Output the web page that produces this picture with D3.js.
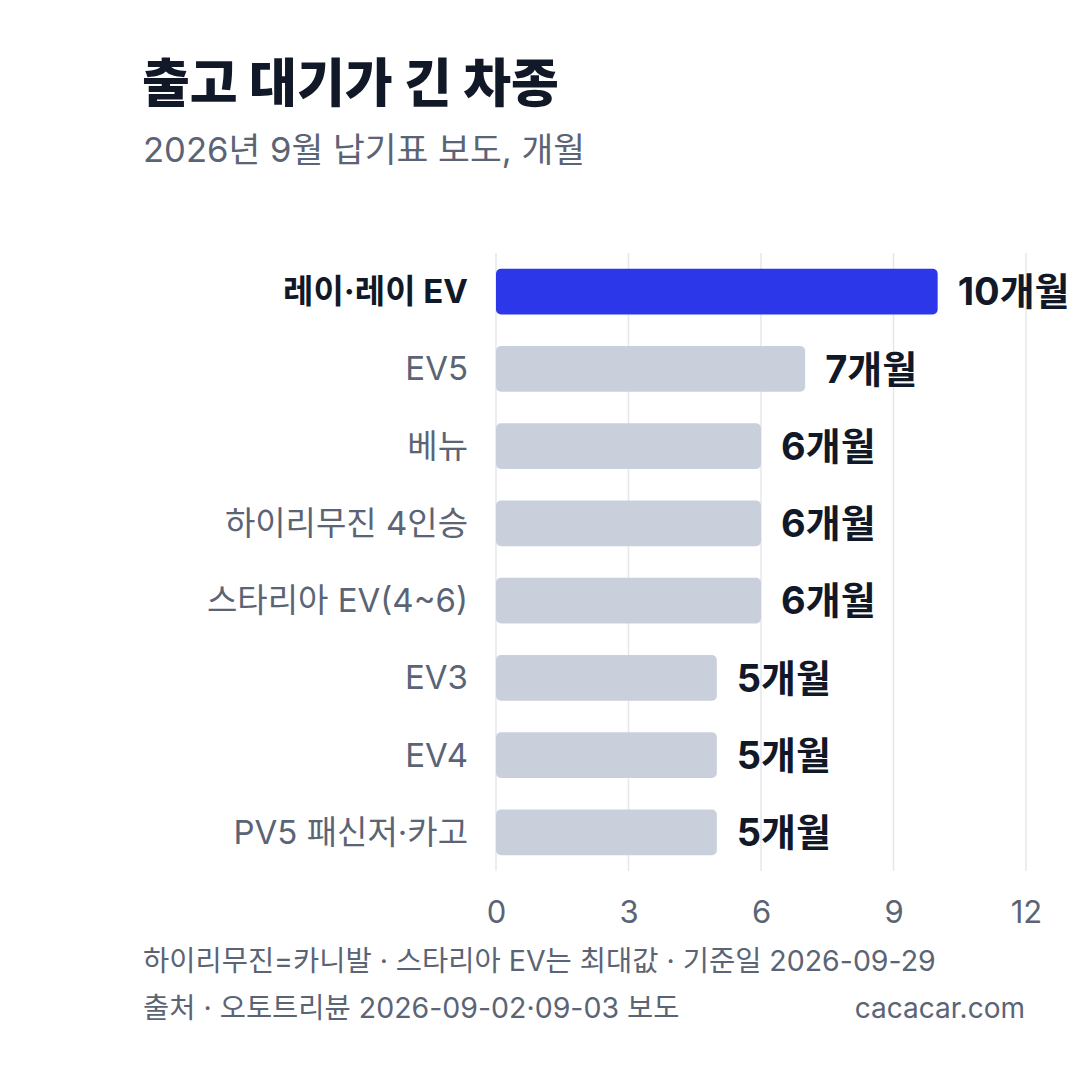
<!DOCTYPE html>
<html>
<head>
<meta charset="utf-8">
<script src="https://cdn.jsdelivr.net/npm/d3@7"></script>
<style>
  html, body { margin: 0; padding: 0; background: #fff; }
  svg { display: block; font-family: Inter, "Noto Sans CJK KR", sans-serif; }
</style>
</head>
<body>
<div id="main"></div>
<script>
const models = ['레이·레이 EV', 'EV5', '베뉴', '하이리무진 4인승', '스타리아 EV(4~6)', 'EV3', 'EV4', 'PV5 패신저·카고'];
const months = [10, 7, 6, 6, 6, 5, 5, 5];
const highlight = ['레이·레이 EV'];
const xTicks = [0, 3, 6, 9, 12];

const W = 1080, H = 1080;
const svg = d3.select('#main').append('svg').attr('width', W).attr('height', H);

const x = d3.scaleLinear().domain([0, 12]).range([496, 1026]);
const y = d3.scaleBand().domain(models).range([253, 871]).paddingInner(0.41).paddingOuter(0.205);

// title block
svg.append('text').attr('x', 142).attr('y', 102)
    .attr('font-size', 52).attr('font-weight', 800).attr('fill', '#111827')
    .text('출고 대기가 긴 차종');
svg.append('text').attr('x', 143).attr('y', 162)
    .attr('font-size', 34.6).attr('fill', '#5b6475')
    .text('2026년 9월 납기표 보도, 개월');

// grid
svg.append('g').selectAll('line').data(xTicks).enter().append('line')
    .attr('x1', (d) => x(d)).attr('x2', (d) => x(d))
    .attr('y1', 253).attr('y2', 871)
    .attr('stroke', '#e5e7eb').attr('stroke-width', 1.5);

// bars
const rows = models.map((m, i) => ({model: m, value: months[i]}));
svg.append('g').selectAll('rect').data(rows).enter().append('rect')
    .attr('x', x(0))
    .attr('y', (d) => y(d.model))
    .attr('width', (d) => x(d.value) - x(0))
    .attr('height', y.bandwidth())
    .attr('rx', 5)
    .attr('fill', (d) => highlight.includes(d.model) ? '#2b37e8' : '#c9d0db');

// category labels
svg.append('g').selectAll('text').data(rows).enter().append('text')
    .attr('x', 468)
    .attr('y', (d) => y(d.model) + y.bandwidth() / 2)
    .attr('dy', '0.35em')
    .attr('text-anchor', 'end')
    .attr('font-size', 33)
    .attr('font-weight', (d) => highlight.includes(d.model) ? 700 : 400)
    .attr('fill', (d) => highlight.includes(d.model) ? '#111827' : '#5b6475')
    .text((d) => d.model);

// value labels
svg.append('g').selectAll('text').data(rows).enter().append('text')
    .attr('x', (d) => x(d.value) + 20)
    .attr('y', (d) => y(d.model) + y.bandwidth() / 2)
    .attr('dy', '0.36em')
    .attr('font-size', 38)
    .attr('font-weight', 700)
    .attr('fill', '#111827')
    .text((d) => `${d.value}개월`);

// x axis
const axis = svg.append('g').attr('transform', 'translate(0, 901)')
    .call(d3.axisBottom(x).tickValues(xTicks).tickSize(0).tickPadding(0));
axis.select('.domain').remove();
axis.selectAll('text')
    .attr('dy', '0.71em')
    .attr('font-size', 31).attr('font-family', 'Inter, "Noto Sans CJK KR", sans-serif')
    .attr('fill', '#5b6475');

// footer
svg.append('text').attr('x', 143).attr('y', 971)
    .attr('font-size', 28.5).attr('fill', '#5b6475')
    .text('하이리무진=카니발 · 스타리아 EV는 최대값 · 기준일 2026-09-29');
svg.append('text').attr('x', 143).attr('y', 1018)
    .attr('font-size', 28.5).attr('fill', '#5b6475')
    .text('출처 · 오토트리뷴 2026-09-02·09-03 보도');
svg.append('text').attr('x', 1025).attr('y', 1018)
    .attr('text-anchor', 'end')
    .attr('font-size', 28).attr('fill', '#5b6475')
    .text('cacacar.com');
</script>
</body>
</html>
